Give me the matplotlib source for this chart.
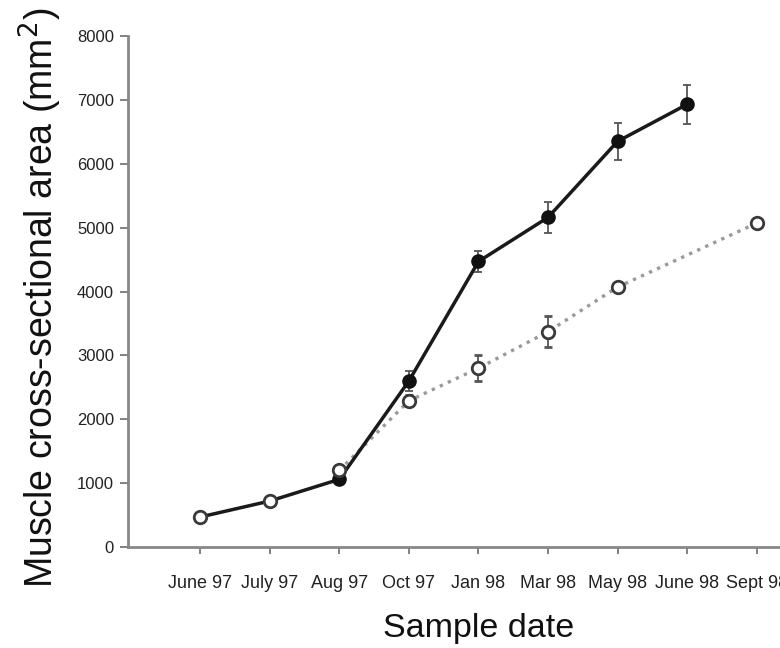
import matplotlib.pyplot as plt
import numpy as np

plt.rcParams['font.family'] = ['Liberation Sans', 'DejaVu Sans']

# sampling dates along the x axis
dates = ['June 97', 'July 97', 'Aug 97', 'Oct 97', 'Jan 98',
         'Mar 98', 'May 98', 'June 98', 'Sept 98']

# open circles: sampled at every date except June 98
open_pos = [0, 1, 2, 3, 4, 5, 6, 8]
open_area = [470, 720, 1200, 2290, 2800, 3370, 4070, 5070]
open_err = [0, 0, 0, 90, 200, 240, 60, 0]

# filled circles: from Aug 97 to June 98
fill_pos = [2, 3, 4, 5, 6, 7]
fill_area = [1060, 2600, 4470, 5160, 6350, 6930]
fill_err = [0, 150, 170, 240, 290, 300]

fig = plt.figure(figsize=(7.8, 6.48), dpi=100)
# axes runs past the right edge, so the last label gets cut off
ax = fig.add_axes([128 / 780, 101 / 648, 726 / 780, 511 / 648])

# solid line: first two open points then the filled series
solid_x = open_pos[:2] + fill_pos
solid_y = open_area[:2] + fill_area
ax.plot(solid_x, solid_y, '-', color='#1a1a1a', lw=2.5, zorder=2)

# dotted line through the open series from Aug 97 on
ax.plot(open_pos[2:], open_area[2:], ':', color='#9a9a9a', lw=2.4, zorder=1)

ax.errorbar(fill_pos, fill_area, yerr=fill_err, fmt='o', color='#111111',
            ms=9.5, ecolor='#555555', elinewidth=1.3, capsize=3.2, capthick=1.3,
            zorder=3)
ax.errorbar(open_pos, open_area, yerr=open_err, fmt='o', mfc='white',
            mec='#3a3a3a', mew=2.0, ms=9, ecolor='#555555', elinewidth=1.3,
            capsize=3.2, capthick=1.3, zorder=4)

ax.set_xlim(-1.04, 9.4)
ax.set_ylim(0, 8000)
ax.set_xticks(range(len(dates)))
ax.set_xticklabels(dates, fontsize=13, color='#222222')
ax.set_yticks(np.arange(0, 8001, 1000))
ax.set_yticklabels([str(v) for v in range(0, 8001, 1000)], fontsize=12, color='#222222')
ax.tick_params(axis='y', length=6, width=1.3, color='#777777', pad=4)
ax.tick_params(axis='x', length=5, width=1.3, color='#777777', pad=15)

for s in ['top', 'right']:
    ax.spines[s].set_visible(False)
for s in ['left', 'bottom']:
    ax.spines[s].set_color('#888888')
    ax.spines[s].set_linewidth(2)

ax.set_ylabel('Muscle cross-sectional area (mm$^2$)', fontsize=27, color='#111111')
ax.yaxis.set_label_coords((64 - 128) / 726, (547 - 298) / 511)
ax.set_xlabel('Sample date', fontsize=24.5, color='#111111', va='baseline')
ax.xaxis.set_label_coords((479 - 128) / 726, (547 - 637) / 511)

fig.savefig('out.png', dpi=100)
